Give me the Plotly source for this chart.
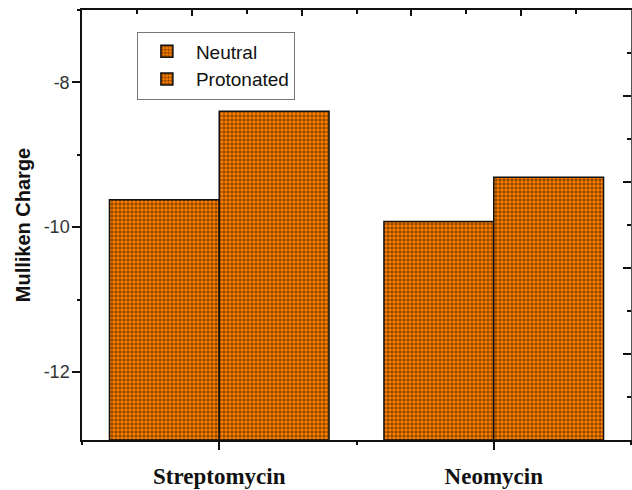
import plotly.graph_objects as go

categories = ["Streptomycin", "Neomycin"]
series_names = ["Neutral", "Protonated"]
neutral = [-9.62, -9.92]
protonated = [-8.40, -9.31]
y_tick_vals = [-12, -10, -8]
y_tick_text = ["-12", "-10", "-8"]
Y_MIN, Y_MAX = -12.94, -7.0

ORANGE = "#FF8000"

def bar(name, vals):
    return go.Bar(
        name=name, x=categories, y=[v - Y_MIN for v in vals], base=Y_MIN,
        marker=dict(
            color=ORANGE,
            line=dict(color="#111", width=1.5),
            pattern=dict(shape="+", fgcolor="#000", bgcolor=ORANGE,
                         size=4, solidity=0.22, fillmode="replace"),
        ),
    )

fig = go.Figure()
fig.add_trace(bar(series_names[0], neutral))
fig.add_trace(bar(series_names[1], protonated))
# empty helper traces so the secondary (tick-only) axes are drawn
fig.add_trace(go.Scatter(x=[None], y=[None], xaxis="x3", yaxis="y2",
                         showlegend=False, hoverinfo="skip", mode="markers"))
fig.add_trace(go.Scatter(x=[None], y=[None], xaxis="x2", yaxis="y3",
                         showlegend=False, hoverinfo="skip", mode="markers"))

tick_style = dict(tickwidth=1.5, tickcolor="#111")

fig.update_layout(
    width=632, height=490,
    margin=dict(l=82, r=1, t=10, b=50, autoexpand=False),
    paper_bgcolor="white", plot_bgcolor="white",
    barmode="group", bargap=0.2, bargroupgap=0,
    font=dict(family="Arial, Liberation Sans", color="#222"),
    showlegend=True,
    legend=dict(
        x=0.1, y=0.95, xanchor="left", yanchor="top",
        bordercolor="#777", borderwidth=1, bgcolor="white",
        font=dict(size=19, color="#111"),
        itemwidth=48, tracegroupgap=0,
    ),
    xaxis=dict(
        type="category", range=[-0.5, 1.5], automargin=False,
        showline=True, linecolor="#111", linewidth=1.5,
        ticks="outside", ticklen=8, **tick_style,
        tickfont=dict(family="Liberation Serif, Times New Roman", size=23, color="#111", weight="bold"),
        ticklabelstandoff=7,
        showgrid=False, zeroline=False,
    ),
    xaxis2=dict(
        overlaying="x", anchor="y3", side="bottom", range=[0, 2],
        tickvals=[0, 1, 2], showticklabels=False, automargin=False,
        ticks="outside", ticklen=4, **tick_style,
        showline=False, showgrid=False, zeroline=False,
    ),
    xaxis3=dict(
        overlaying="x", anchor="y2", side="top", range=[0, 10],
        dtick=2, tick0=0, showticklabels=False, automargin=False,
        ticks="inside", ticklen=6, **tick_style,
        minor=dict(dtick=1, tick0=0, ticks="inside", ticklen=4, **tick_style),
        showline=True, linecolor="#111", linewidth=1.5,
        showgrid=False, zeroline=False,
    ),
    yaxis=dict(
        range=[Y_MIN, Y_MAX], automargin=False,
        tickvals=y_tick_vals, ticktext=y_tick_text,
        showline=True, linecolor="#111", linewidth=1.5,
        ticks="outside", ticklen=8, **tick_style,
        tickfont=dict(size=18, color="#333"),
        ticklabelstandoff=-1,
        title=dict(text="Mulliken Charge", font=dict(size=20, color="#111", weight="bold"), standoff=8),
        showgrid=False, zeroline=False,
    ),
    yaxis3=dict(
        overlaying="y", anchor="x2", side="left", range=[Y_MIN, Y_MAX],
        dtick=1, tick0=0, showticklabels=False, automargin=False,
        ticks="outside", ticklen=4, **tick_style,
        showline=False, showgrid=False, zeroline=False,
    ),
    yaxis2=dict(
        overlaying="y", anchor="x3", side="right", range=[0, 10],
        dtick=2, tick0=0, showticklabels=False, automargin=False,
        ticks="inside", ticklen=8, **tick_style,
        minor=dict(dtick=1, tick0=0, ticks="inside", ticklen=4, **tick_style),
        showline=True, linecolor="#555", linewidth=1.5,
        showgrid=False, zeroline=False,
    ),
)

fig.write_html("out.html")
